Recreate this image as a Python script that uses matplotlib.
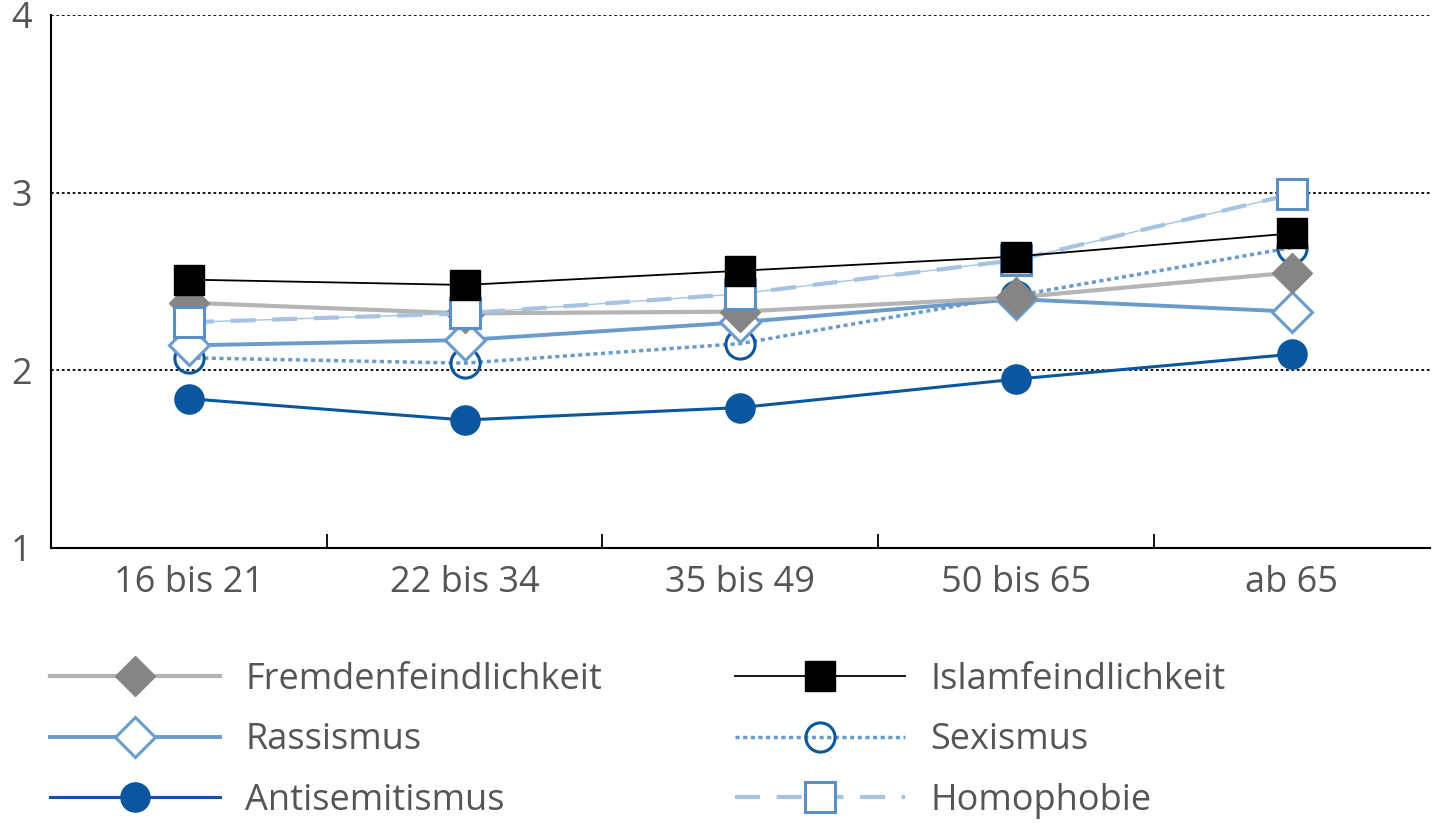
import matplotlib
matplotlib.use('Agg')
import matplotlib.pyplot as plt
from matplotlib.lines import Line2D

plt.rcParams['font.family'] = ['Open Sans', 'DejaVu Sans']

# data
age_groups = ["16 bis 21", "22 bis 34", "35 bis 49", "50 bis 65", "ab 65"]
fremdenfeindlichkeit = [2.38, 2.32, 2.33, 2.41, 2.55]
islamfeindlichkeit = [2.51, 2.48, 2.56, 2.64, 2.77]
rassismus = [2.14, 2.17, 2.27, 2.40, 2.33]
sexismus = [2.07, 2.04, 2.15, 2.42, 2.69]
antisemitismus = [1.84, 1.72, 1.79, 1.95, 2.09]
homophobie = [2.27, 2.32, 2.43, 2.62, 2.99]
y_ticks = [1, 2, 3, 4]

x = list(range(len(age_groups)))

fig = plt.figure(figsize=(14.33, 8.24), dpi=100)
ax = fig.add_axes([0.0356, 0.335, 0.962, 0.647])

c_gray_line = "#b4b4b4"
c_gray_mark = "#858585"
c_light = "#6a9bcb"
c_dark = "#0a57a0"
c_pale = "#a6c4e2"
c_text = "#555555"

# series styles
antisem_kw = dict(color=c_dark, lw=2.2, marker="o", ms=21, mfc=c_dark, mec=c_dark)
sex_kw = dict(color=c_light, lw=2.5, ls=(0, (1.2, 1.0)), marker="o", ms=21,
              mfc="none", mec=c_dark, mew=2.2)
rass_kw = dict(color=c_light, lw=2.8, marker="D", ms=20, mfc="white", mec=c_light, mew=2.2)
fremd_kw = dict(color=c_gray_line, lw=3.0, marker="D", ms=20, mfc=c_gray_mark, mec=c_gray_mark)
homo_kw = dict(color=c_pale, lw=3.0, ls=(0, (6, 4)), marker="s", ms=21,
               mfc="white", mec="#5b8fc6", mew=2.2)
islam_kw = dict(color="black", lw=1.3, marker="s", ms=21, mfc="black", mec="black")

ax.plot(x, antisemitismus, zorder=3, **antisem_kw)
ax.plot(x, sexismus, zorder=4, **sex_kw)
ax.plot(x, rassismus, zorder=5, **rass_kw)
ax.plot(x, fremdenfeindlichkeit, zorder=6, **fremd_kw)
ax.plot(x, homophobie, color=c_pale, lw=1.0, zorder=6.5)
ax.plot(x, homophobie, zorder=7, **homo_kw)
ax.plot(x, islamfeindlichkeit, zorder=8, **islam_kw)

ax.set_xlim(-0.5, 4.5)
ax.set_ylim(1, 4)
ax.set_yticks(y_ticks)
ax.set_yticklabels([str(v) for v in y_ticks])
for v in y_ticks[1:]:
    ax.axhline(v, color="black", lw=1.3, ls=(0, (1.5, 1.5)), zorder=1)

ax.set_xticks([i + 0.5 for i in x[:-1]])
ax.set_xticklabels([])
ax.set_xticks(x, minor=True)
ax.set_xticklabels(age_groups, minor=True)
ax.tick_params(axis="x", which="major", direction="in", length=10, width=1.3, color="black")
ax.tick_params(axis="x", which="minor", length=0, pad=12, labelsize=26, labelcolor=c_text)
ax.tick_params(axis="y", length=0, pad=14, labelsize=26, labelcolor=c_text)

for s in ["top", "right"]:
    ax.spines[s].set_visible(False)
for s in ["left", "bottom"]:
    ax.spines[s].set_linewidth(1.5)
    ax.spines[s].set_color("black")

# legend, two columns placed separately
col1 = [(fremd_kw, "Fremdenfeindlichkeit"), (rass_kw, "Rassismus"),
        (antisem_kw, "Antisemitismus")]
col2 = [(islam_kw, "Islamfeindlichkeit"), (sex_kw, "Sexismus"),
        (homo_kw, "Homophobie")]

for entries, x0 in [(col1, 0.035), (col2, 0.513)]:
    leg = fig.legend([Line2D([], [], **kw) for kw, _ in entries],
                     [lab for _, lab in entries],
                     loc="upper left", bbox_to_anchor=(x0, 0.197),
                     frameon=False, fontsize=26, handlelength=4.7,
                     handletextpad=0.7, labelspacing=0.68, borderaxespad=0,
                     borderpad=0)
    for t in leg.get_texts():
        t.set_color(c_text)

fig.savefig("out.png", dpi=100)
